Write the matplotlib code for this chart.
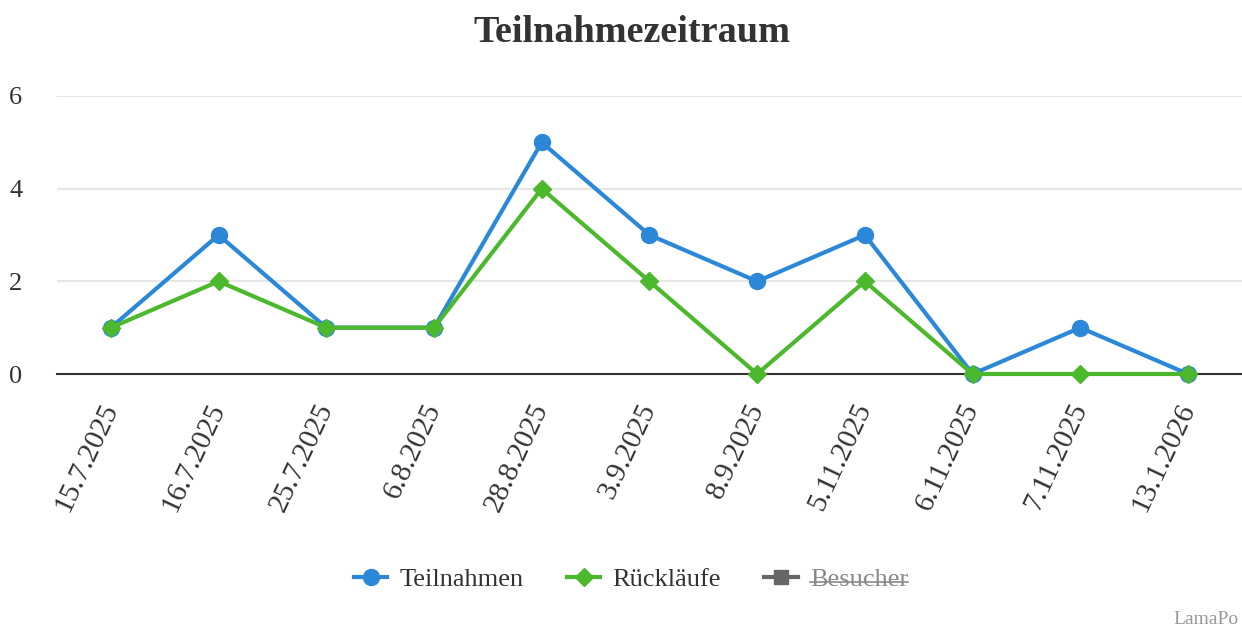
"""
Teilnahmezeitraum: Teilnahmen und Rückläufe pro Datum.
"""

import matplotlib
matplotlib.use("Agg")
import matplotlib.pyplot as plt
from matplotlib.lines import Line2D

# Daten
dates = ["15.7.2025", "16.7.2025", "25.7.2025", "6.8.2025", "28.8.2025", "3.9.2025",
         "8.9.2025", "5.11.2025", "6.11.2025", "7.11.2025", "13.1.2026"]
teilnahmen = [1, 3, 1, 1, 5, 3, 2, 3, 0, 1, 0]
ruecklaeufe = [1, 2, 1, 1, 4, 2, 0, 2, 0, 0, 0]
series_names = ["Teilnahmen", "Rückläufe", "Besucher"]
y_ticks = [0, 2, 4, 6]

BLUE = "#2b88d8"
GREEN = "#4cb82b"
GRAY = "#666666"
TEXT = "#333333"

plt.rcParams["font.family"] = ["Liberation Serif", "DejaVu Serif"]

fig = plt.figure(figsize=(12.42, 6.29), dpi=100)
ax = fig.add_axes([0.0459, 0.4054, 0.954, 0.442])

x = list(range(len(dates)))
ax.plot(x, teilnahmen, color=BLUE, linewidth=3, marker="o", markersize=11.5,
        zorder=3, clip_on=False)
ax.plot(x, ruecklaeufe, color=GREEN, linewidth=3, marker="D", markersize=9,
        zorder=4, clip_on=False)

# Achsen
ax.set_xlim(-0.5, len(dates) - 0.5)
ax.set_ylim(0, 6)
ax.set_yticks(y_ticks)
ax.set_yticklabels([str(v) for v in y_ticks], fontsize=19, color=TEXT)
ax.set_xticks(x)
ax.set_xticklabels(dates, fontsize=21, color=TEXT, rotation=65,
                   ha="right", va="center", rotation_mode="anchor")
ax.tick_params(axis="x", length=0, pad=22)
ax.tick_params(axis="y", length=0, pad=25)

for s in ["top", "right", "left"]:
    ax.spines[s].set_visible(False)
ax.spines["bottom"].set_color(TEXT)
ax.spines["bottom"].set_linewidth(1.5)
ax.spines["bottom"].set_zorder(2)

ax.grid(axis="y", color="#e6e6e6", linewidth=1.5)
ax.set_axisbelow(True)

# Titel
fig.text(0.509, 0.948, "Teilnahmezeitraum", ha="center", va="center",
         fontsize=27.5, fontweight="bold", color=TEXT)

# Legende
handles = [
    Line2D([], [], color=BLUE, linewidth=3, marker="o", markersize=11.5),
    Line2D([], [], color=GREEN, linewidth=3, marker="D", markersize=9),
    Line2D([], [], color=GRAY, linewidth=3, marker="s", markersize=10),
]
leg = fig.legend(handles, series_names, loc="center", bbox_to_anchor=(0.508, 0.079),
                 ncol=3, frameon=False, fontsize=19, handlelength=1.27,
                 columnspacing=1.65, handletextpad=0.45)
for t in leg.get_texts():
    t.set_color(TEXT)
leg.get_texts()[2].set_color("#8a8a8a")

# Besucher durchgestrichen
fig.canvas.draw()
bb = leg.get_texts()[2].get_window_extent().transformed(fig.transFigure.inverted())
ymid = bb.y0 + bb.height * 0.42
fig.add_artist(Line2D([bb.x0, bb.x1], [ymid, ymid], transform=fig.transFigure,
                      color="#8a8a8a", linewidth=1.2))

# Quelle
fig.text(0.997, 0.002, "LamaPo", ha="right", va="bottom", fontsize=14, color="#999999")

plt.savefig("out.png", dpi=100)
